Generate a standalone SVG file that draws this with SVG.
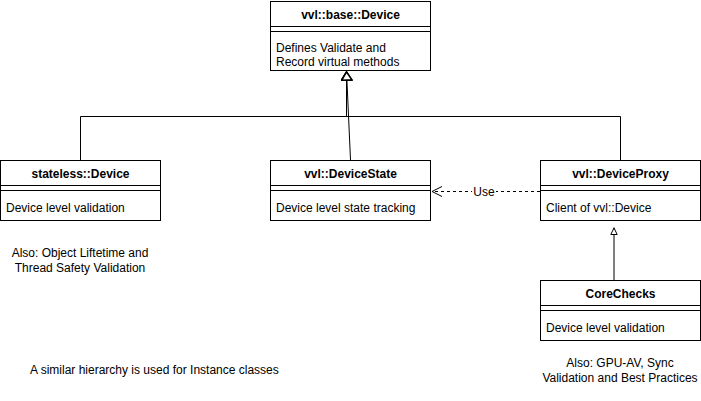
<svg xmlns="http://www.w3.org/2000/svg" width="701" height="401" viewBox="0 0 701 401">
<style>
.box{fill:#fff;stroke:#000;stroke-width:1}
.ln{fill:none;stroke:#000;stroke-width:1}
.t{font-family:"Liberation Sans",Arial,sans-serif;font-size:12px;fill:#000}
.b{font-weight:bold;text-anchor:middle}
.c{text-anchor:middle}
</style>
<defs>
<marker id="tri" viewBox="0 0 10 12" refX="10" refY="6" markerWidth="10" markerHeight="12" markerUnits="userSpaceOnUse" orient="auto">
<path d="M1,1 L9,6 L1,11 Z" fill="#fff" stroke="#000" stroke-width="1.5"/>
</marker>
<marker id="tris" viewBox="0 0 8 8" refX="8" refY="4" markerWidth="8" markerHeight="8" markerUnits="userSpaceOnUse" orient="auto">
<path d="M1,0.8 L7.5,4 L1,7.2 Z" fill="#fff" stroke="#000" stroke-width="1"/>
</marker>
<marker id="open" viewBox="0 0 12 12" refX="11" refY="6" markerWidth="12" markerHeight="12" markerUnits="userSpaceOnUse" orient="auto">
<path d="M1,1 L11,6 L1,11" fill="none" stroke="#000" stroke-width="1"/>
</marker>
</defs>
<rect width="701" height="401" fill="#fff"/>
<g id="connectors">
<path class="ln" d="M80.5,160 V116.5 H346.5 V71" marker-end="url(#tri)"/>
<path class="ln" d="M620.5,160 V116.5 H346.5 V71" marker-end="url(#tri)"/>
<path class="ln" d="M350.5,160 L346.5,71" marker-end="url(#tri)"/>
<path class="ln" d="M614,280 V227.5" marker-end="url(#tris)"/>
<path class="ln" d="M540,191.5 H432" stroke-dasharray="3,3" marker-end="url(#open)"/>
<rect x="472" y="184" width="24" height="14" fill="#fff"/>
<text class="t c" x="484" y="195.5">Use</text>
</g>
<g id="base-device">
<rect class="box" x="270.5" y="1.5" width="160" height="69"/>
<line class="ln" x1="270.5" y1="26.5" x2="430.5" y2="26.5"/>
<line class="ln" x1="270.5" y1="31.5" x2="430.5" y2="31.5"/>
<text class="t b" x="350.5" y="19">vvl::base::Device</text>
<text class="t" x="276" y="52">Defines Validate and</text>
<text class="t" x="276" y="66">Record virtual methods</text>
</g>
<g id="stateless-device">
<rect class="box" x="0.5" y="160.5" width="160" height="60"/>
<line class="ln" x1="0.5" y1="185.5" x2="160.5" y2="185.5"/>
<line class="ln" x1="0.5" y1="190.5" x2="160.5" y2="190.5"/>
<text class="t b" x="80.5" y="178">stateless::Device</text>
<text class="t" x="6" y="212">Device level validation</text>
</g>
<g id="device-state">
<rect class="box" x="270.5" y="160.5" width="160" height="60"/>
<line class="ln" x1="270.5" y1="185.5" x2="430.5" y2="185.5"/>
<line class="ln" x1="270.5" y1="190.5" x2="430.5" y2="190.5"/>
<text class="t b" x="350.5" y="178">vvl::DeviceState</text>
<text class="t" x="276" y="212">Device level state tracking</text>
</g>
<g id="device-proxy">
<rect class="box" x="540.5" y="160.5" width="160" height="60"/>
<line class="ln" x1="540.5" y1="185.5" x2="700.5" y2="185.5"/>
<line class="ln" x1="540.5" y1="190.5" x2="700.5" y2="190.5"/>
<text class="t b" x="620.5" y="178">vvl::DeviceProxy</text>
<text class="t" x="546" y="212">Client of vvl::Device</text>
</g>
<g id="core-checks">
<rect class="box" x="540.5" y="280.5" width="160" height="60"/>
<line class="ln" x1="540.5" y1="305.5" x2="700.5" y2="305.5"/>
<line class="ln" x1="540.5" y1="310.5" x2="700.5" y2="310.5"/>
<text class="t b" x="620.5" y="298">CoreChecks</text>
<text class="t" x="546" y="332">Device level validation</text>
</g>
<g id="notes">
<text class="t c" x="80" y="257">Also: Object Liftetime and</text>
<text class="t c" x="80" y="272">Thread Safety Validation</text>
<text class="t" x="30" y="374">A similar hierarchy is used for Instance classes</text>
<text class="t c" x="620" y="367">Also: GPU-AV, Sync</text>
<text class="t c" x="620" y="382">Validation and Best Practices</text>
</g>
</svg>
